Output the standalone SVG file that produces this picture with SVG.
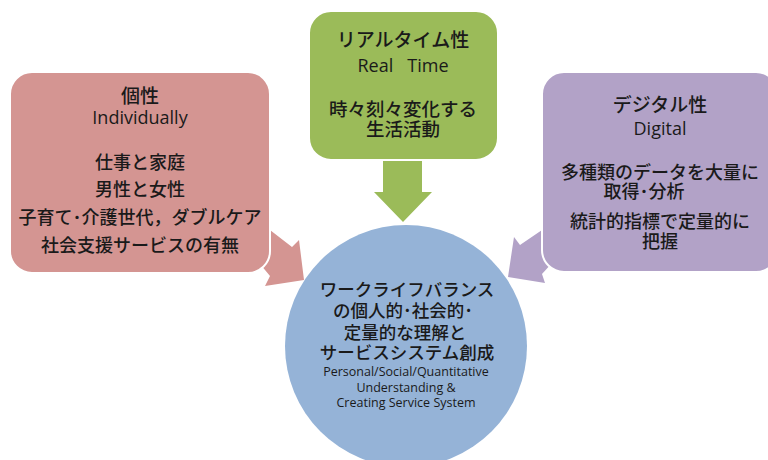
<svg xmlns="http://www.w3.org/2000/svg" width="768" height="460" viewBox="0 0 768 460">
<style>
.jp{font-family:"Noto Sans CJK JP","Noto Sans",sans-serif;fill:#1a1a1a;text-anchor:middle;font-weight:500}
.en{font-family:"Open Sans","Liberation Sans",sans-serif;fill:#1a1a1a;text-anchor:middle}
.box{stroke:#fff;stroke-width:2}
</style>
<rect width="768" height="460" fill="#fff"/>
<g id="connectors">
<polygon points="250,252 270,230 292,247 299,240 304,280 265,286 270,276" fill="#d49592"/>
<polygon points="562,252 542,230 520,245 514,237 508,277 545,283 542,274" fill="#b2a2c7"/>
<polygon points="383,150 422,150 422,192 432,192 403,222 374,192 383,192" fill="#9bbb59"/>
</g>
<g id="node-individual">
<rect class="box" x="10" y="72" width="260" height="201" rx="22" fill="#d49592"/>
<text class="jp" x="140" y="103" font-size="19">個性</text>
<text class="en" x="140" y="124" font-size="18">Individually</text>
<text class="jp" x="140" y="169" font-size="18">仕事と家庭</text>
<text class="jp" x="140" y="196" font-size="18">男性と女性</text>
<text class="jp" x="140" y="224" font-size="18">子育て･介護世代，ダブルケア</text>
<text class="jp" x="140" y="252" font-size="18">社会支援サービスの有無</text>
</g>
<g id="node-realtime">
<rect class="box" x="309" y="11" width="189" height="149" rx="22" fill="#9bbb59"/>
<text class="jp" x="403" y="47" font-size="19">リアルタイム性</text>
<text class="en" x="403" y="72" font-size="18">Real&#160;&#160;&#160;Time</text>
<text class="jp" x="403" y="116" font-size="18.5">時々刻々変化する</text>
<text class="jp" x="403" y="136" font-size="18.5">生活活動</text>
</g>
<g id="node-digital">
<rect class="box" x="542" y="72" width="236" height="200" rx="22" fill="#b2a2c7"/>
<text class="jp" x="660" y="112" font-size="19">デジタル性</text>
<text class="en" x="660" y="135" font-size="18">Digital</text>
<text class="jp" x="660" y="179" font-size="18">多種類のデータを大量に</text>
<text class="jp" x="644" y="198" font-size="18">取得･分析</text>
<text class="jp" x="660" y="228" font-size="18">統計的指標で定量的に</text>
<text class="jp" x="660" y="248" font-size="18">把握</text>
</g>
<g id="node-center">
<circle cx="406" cy="346" r="121" fill="#95b3d7"/>
<text class="jp" x="407" y="296" font-size="17.5">ワークライフバランス</text>
<text class="jp" x="403" y="317" font-size="17.5">の個人的･社会的･</text>
<text class="jp" x="405" y="339" font-size="17.5">定量的な理解と</text>
<text class="jp" x="407" y="359" font-size="17.5">サービスシステム創成</text>
<text class="en" x="406" y="376" font-size="12.5">Personal/Social/Quantitative</text>
<text class="en" x="406" y="392" font-size="12.5">Understanding &amp;</text>
<text class="en" x="406" y="407" font-size="12.5">Creating Service System</text>
</g>
</svg>
